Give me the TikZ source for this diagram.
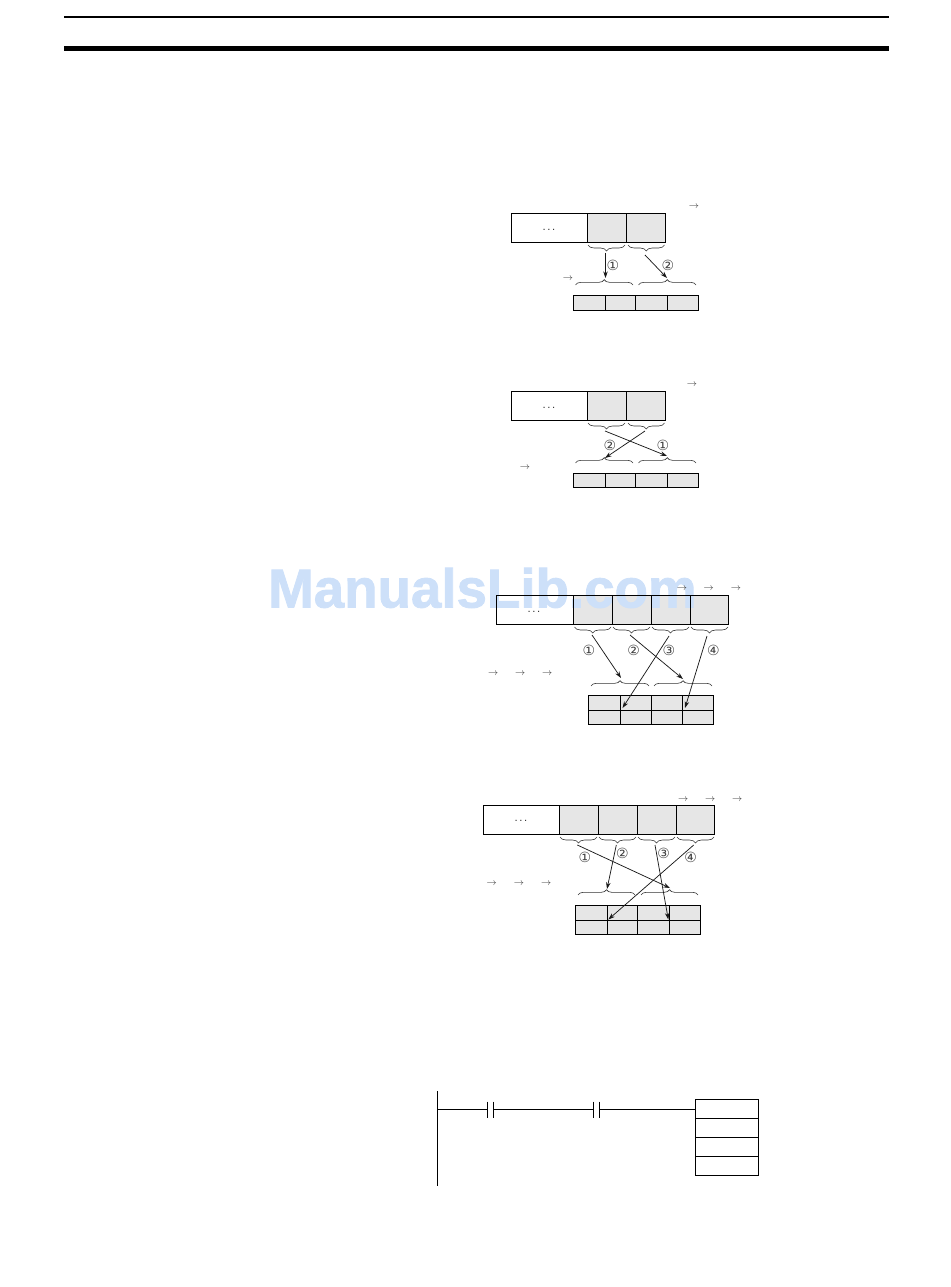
\documentclass[tikz,border=0pt]{standalone}
\usepackage{fontspec}
\setmainfont{Liberation Sans}
\newfontfamily\circfont{DejaVu Sans}
\newfontfamily\wmfont[FakeBold=1.6]{Liberation Sans Bold}
\usetikzlibrary{arrows.meta,decorations.pathreplacing}
\definecolor{cellgray}{HTML}{E6E6E6}
\definecolor{wmblue}{HTML}{CDE0F9}
\tikzset{
  px/.style={x=0.75pt,y=-0.75pt},
  whitecell/.style={draw=black,line width=0.85pt,fill=white,inner sep=0pt,outer sep=0pt},
  graycell/.style={draw=black,line width=0.85pt,fill=cellgray,inner sep=0pt,outer sep=0pt},
  grayback/.style={fill=cellgray,inner sep=0pt,outer sep=0pt},
  linecell/.style={draw=black,line width=0.85pt,inner sep=0pt,outer sep=0pt},
  flow/.style={draw=black!90,line width=0.55pt,-{Stealth[length=5pt,width=3.4pt]}},
  bracetop/.style={draw=black!80,line width=0.45pt,decorate,decoration={brace,mirror,amplitude=4.5pt,aspect=0.5}},
  bracelow/.style={draw=black!80,line width=0.45pt,decorate,decoration={brace,amplitude=4pt,aspect=0.5}},
  seq/.style={font=\circfont\fontsize{10.5pt}{11pt}\selectfont,text=black!75,inner sep=0pt},
  order/.style={font=\fontsize{7.5pt}{8pt}\selectfont,text=black!75,inner sep=0pt},
  dotsmark/.style={font=\fontsize{8.5pt}{9pt}\selectfont,text=black!80,inner sep=0pt},
  rail/.style={draw=black,line width=0.95pt},
  headthin/.style={draw=black,line width=1.1pt},
  headthick/.style={draw=black,line width=3.9pt},
  mark text/.style={font=\wmfont\fontsize{41pt}{45pt}\selectfont,text=wmblue,inner sep=0pt}
}
% name, x1, y1, x2, y2, style
\newcommand{\cellnode}[6]{%
  \node[#6,minimum width={(#4-#2)*0.75pt},minimum height={(#5-#3)*0.75pt}] (#1) at ({(#2+#4)/2},{(#3+#5)/2}) {};}
\newcommand{\arrowmark}[3]{\node[order,yshift=-1.2pt] (#1) at (#2,#3) {$\rightarrow$};}
\newcommand{\tridots}{.\kern1.2pt.\kern1.2pt.}
\begin{document}
\begin{tikzpicture}[px]
\useasboundingbox (0,0) rectangle (950,1287);
% header rules
\coordinate (hl1) at (64,17); \coordinate (hr1) at (889,17);
\coordinate (hl2) at (64,48.5); \coordinate (hr2) at (889,48.5);
\draw[headthin] (hl1) -- (hr1);
\draw[headthick] (hl2) -- (hr2);

% ---------- diagram 1
\cellnode{a0}{511.5}{213.5}{587.5}{242.5}{whitecell}
\cellnode{a1}{587.5}{213.5}{626.5}{242.5}{graycell}
\cellnode{a2}{626.5}{213.5}{665.5}{242.5}{graycell}
\node[dotsmark] (adots) at (549,229.5) {\tridots};
\cellnode{at1}{573.5}{295.5}{605.5}{310.5}{graycell}
\cellnode{at2}{605.5}{295.5}{635.5}{310.5}{graycell}
\cellnode{at3}{635.5}{295.5}{667.5}{310.5}{graycell}
\cellnode{at4}{667.5}{295.5}{698.5}{310.5}{graycell}
\coordinate (aub1) at (588,245); \coordinate (aub2) at (625,245);
\coordinate (aub3) at (628,245); \coordinate (aub4) at (664.5,245);
\coordinate (alb1) at (575.5,285); \coordinate (alb2) at (633,285);
\coordinate (alb3) at (638.5,285); \coordinate (alb4) at (696,285);
\draw[bracetop] (aub1) -- (aub2);
\draw[bracetop] (aub3) -- (aub4);
\draw[bracelow] (alb1) -- (alb2);
\draw[bracelow] (alb3) -- (alb4);
\coordinate (as1) at (605.5,253); \coordinate (ae1) at (605.5,278);
\coordinate (as2) at (645,255); \coordinate (ae2) at (667,278);
\draw[flow] (as1) -- (ae1);
\draw[flow] (as2) -- (ae2);
\node[seq] (an1) at (613,265) {①};
\node[seq] (an2) at (668,265) {②};
\arrowmark{am1}{694}{205}
\arrowmark{am2}{568}{277}

% ---------- diagram 2
\cellnode{b0}{511.5}{391.5}{587.5}{420.5}{whitecell}
\cellnode{b1}{587.5}{391.5}{626.5}{420.5}{graycell}
\cellnode{b2}{626.5}{391.5}{665.5}{420.5}{graycell}
\node[dotsmark] (bdots) at (549,407.5) {\tridots};
\cellnode{bt1}{573.5}{473.5}{605.5}{487.5}{graycell}
\cellnode{bt2}{605.5}{473.5}{635.5}{487.5}{graycell}
\cellnode{bt3}{635.5}{473.5}{667.5}{487.5}{graycell}
\cellnode{bt4}{667.5}{473.5}{698.5}{487.5}{graycell}
\coordinate (bub1) at (588,423); \coordinate (bub2) at (625,423);
\coordinate (bub3) at (628,423); \coordinate (bub4) at (664.5,423);
\coordinate (blb1) at (575.5,463); \coordinate (blb2) at (633,463);
\coordinate (blb3) at (638.5,463); \coordinate (blb4) at (696,463);
\draw[bracetop] (bub1) -- (bub2);
\draw[bracetop] (bub3) -- (bub4);
\draw[bracelow] (blb1) -- (blb2);
\draw[bracelow] (blb3) -- (blb4);
\coordinate (bs1) at (605,431); \coordinate (be1) at (667,456);
\coordinate (bs2) at (645,431); \coordinate (be2) at (605,458);
\draw[flow] (bs1) -- (be1);
\draw[flow] (bs2) -- (be2);
\node[seq] (bn2) at (610,445) {②};
\node[seq] (bn1) at (663,445) {①};
\arrowmark{bm1}{692}{383}
\arrowmark{bm2}{525}{466}

% ---------- diagram 3
\cellnode{cf1}{573.5}{595.5}{612.5}{624.5}{grayback}
\cellnode{cf2}{612.5}{595.5}{651.5}{624.5}{grayback}
\cellnode{cf3}{651.5}{595.5}{690.5}{624.5}{grayback}
\cellnode{cf4}{690.5}{595.5}{728.5}{624.5}{grayback}
\node[mark text,anchor=base west] (wm) at (268,607.5) {ManualsLib.com};
\cellnode{c0}{496.5}{595.5}{573.5}{624.5}{linecell}
\cellnode{c1}{573.5}{595.5}{612.5}{624.5}{linecell}
\cellnode{c2}{612.5}{595.5}{651.5}{624.5}{linecell}
\cellnode{c3}{651.5}{595.5}{690.5}{624.5}{linecell}
\cellnode{c4}{690.5}{595.5}{728.5}{624.5}{linecell}
\node[dotsmark] (cdots) at (534,611.5) {\tridots};
\cellnode{ct1}{588.5}{695.5}{620.5}{710.5}{graycell}
\cellnode{ct2}{620.5}{695.5}{651.5}{710.5}{graycell}
\cellnode{ct3}{651.5}{695.5}{682.5}{710.5}{graycell}
\cellnode{ct4}{682.5}{695.5}{713.5}{710.5}{graycell}
\cellnode{ct5}{588.5}{710.5}{620.5}{724.5}{graycell}
\cellnode{ct6}{620.5}{710.5}{651.5}{724.5}{graycell}
\cellnode{ct7}{651.5}{710.5}{682.5}{724.5}{graycell}
\cellnode{ct8}{682.5}{710.5}{713.5}{724.5}{graycell}
\coordinate (cub1) at (574.5,627); \coordinate (cub2) at (611,627);
\coordinate (cub3) at (613,627); \coordinate (cub4) at (650,627);
\coordinate (cub5) at (652,627); \coordinate (cub6) at (689,627);
\coordinate (cub7) at (691,627); \coordinate (cub8) at (728,627);
\coordinate (clb1) at (591,686); \coordinate (clb2) at (649,686);
\coordinate (clb3) at (654,686); \coordinate (clb4) at (712,686);
\draw[bracetop] (cub1) -- (cub2);
\draw[bracetop] (cub3) -- (cub4);
\draw[bracetop] (cub5) -- (cub6);
\draw[bracetop] (cub7) -- (cub8);
\draw[bracelow] (clb1) -- (clb2);
\draw[bracelow] (clb3) -- (clb4);
\coordinate (cs1) at (592,635); \coordinate (ce1) at (621,678);
\coordinate (cs2) at (630,635); \coordinate (ce2) at (683,679);
\coordinate (cs3) at (669,636); \coordinate (ce3) at (622.5,708);
\coordinate (cs4) at (707,636); \coordinate (ce4) at (685,708);
\draw[flow] (cs1) -- (ce1);
\draw[flow] (cs2) -- (ce2);
\draw[flow] (cs3) -- (ce3);
\draw[flow] (cs4) -- (ce4);
\node[seq] (cn1) at (589,650) {①};
\node[seq] (cn2) at (633.7,650) {②};
\node[seq] (cn3) at (669,650) {③};
\node[seq] (cn4) at (713.3,650) {④};
\arrowmark{cm1}{682}{587}
\arrowmark{cm2}{708.7}{587}
\arrowmark{cm3}{736}{587}
\arrowmark{cm4}{493.3}{672.3}
\arrowmark{cm5}{520.3}{672.3}
\arrowmark{cm6}{547.3}{672.3}

% ---------- diagram 4
\cellnode{d0}{483.5}{805.5}{559.5}{834.5}{whitecell}
\cellnode{d1}{559.5}{805.5}{598.5}{834.5}{graycell}
\cellnode{d2}{598.5}{805.5}{637.5}{834.5}{graycell}
\cellnode{d3}{637.5}{805.5}{676.5}{834.5}{graycell}
\cellnode{d4}{676.5}{805.5}{714.5}{834.5}{graycell}
\node[dotsmark] (ddots) at (521,821) {\tridots};
\cellnode{dt1}{575.5}{905.5}{607.5}{920.5}{graycell}
\cellnode{dt2}{607.5}{905.5}{637.5}{920.5}{graycell}
\cellnode{dt3}{637.5}{905.5}{669.5}{920.5}{graycell}
\cellnode{dt4}{669.5}{905.5}{700.5}{920.5}{graycell}
\cellnode{dt5}{575.5}{920.5}{607.5}{934.5}{graycell}
\cellnode{dt6}{607.5}{920.5}{637.5}{934.5}{graycell}
\cellnode{dt7}{637.5}{920.5}{669.5}{934.5}{graycell}
\cellnode{dt8}{669.5}{920.5}{700.5}{934.5}{graycell}
\coordinate (dub1) at (560,837); \coordinate (dub2) at (597,837);
\coordinate (dub3) at (599,837); \coordinate (dub4) at (636,837);
\coordinate (dub5) at (638,837); \coordinate (dub6) at (675,837);
\coordinate (dub7) at (677,837); \coordinate (dub8) at (714,837);
\coordinate (dlb1) at (578,895); \coordinate (dlb2) at (635,895);
\coordinate (dlb3) at (641,895); \coordinate (dlb4) at (698,895);
\draw[bracetop] (dub1) -- (dub2);
\draw[bracetop] (dub3) -- (dub4);
\draw[bracetop] (dub5) -- (dub6);
\draw[bracetop] (dub7) -- (dub8);
\draw[bracelow] (dlb1) -- (dlb2);
\draw[bracelow] (dlb3) -- (dlb4);
\coordinate (ds1) at (577.3,845); \coordinate (de1) at (670,888);
\coordinate (ds2) at (616.3,845); \coordinate (de2) at (607,889);
\coordinate (ds3) at (655,845); \coordinate (de3) at (668.3,919.5);
\coordinate (ds4) at (693.7,845); \coordinate (de4) at (608.3,919.5);
\draw[flow] (ds1) -- (de1);
\draw[flow] (ds2) -- (de2);
\draw[flow] (ds3) -- (de3);
\draw[flow] (ds4) -- (de4);
\node[seq] (dn1) at (585,857) {①};
\node[seq] (dn2) at (622.3,853.7) {②};
\node[seq] (dn3) at (663.7,853.7) {③};
\node[seq] (dn4) at (690.7,857) {④};
\arrowmark{dm1}{683.3}{798.3}
\arrowmark{dm2}{710.3}{798.3}
\arrowmark{dm3}{737.3}{798.3}
\arrowmark{dm4}{491.7}{882.3}
\arrowmark{dm5}{519}{882.3}
\arrowmark{dm6}{546.3}{882.3}

% ---------- ladder
\coordinate (railtop) at (437.5,1091); \coordinate (railbot) at (437.5,1186);
\coordinate (r0) at (437.5,1109.5);
\coordinate (k1l) at (487.5,1109.5); \coordinate (k1r) at (493.5,1109.5);
\coordinate (k2l) at (593.5,1109.5); \coordinate (k2r) at (599.5,1109.5);
\coordinate (k1lt) at (487.5,1101.5); \coordinate (k1lb) at (487.5,1117.5);
\coordinate (k1rt) at (493.5,1101.5); \coordinate (k1rb) at (493.5,1117.5);
\coordinate (k2lt) at (593.5,1101.5); \coordinate (k2lb) at (593.5,1117.5);
\coordinate (k2rt) at (599.5,1101.5); \coordinate (k2rb) at (599.5,1117.5);
\cellnode{l1}{695.5}{1099.5}{758.5}{1118.5}{whitecell}
\cellnode{l2}{695.5}{1118.5}{758.5}{1137.5}{whitecell}
\cellnode{l3}{695.5}{1137.5}{758.5}{1156.5}{whitecell}
\cellnode{l4}{695.5}{1156.5}{758.5}{1175.5}{whitecell}
\coordinate (lin) at (695.5,1109.5);
\draw[rail] (railtop) -- (railbot);
\draw[rail] (r0) -- (k1l);
\draw[rail] (k1r) -- (k2l);
\draw[rail] (k2r) -- (lin);
\draw[rail] (k1lt) -- (k1lb);
\draw[rail] (k1rt) -- (k1rb);
\draw[rail] (k2lt) -- (k2lb);
\draw[rail] (k2rt) -- (k2rb);
\end{tikzpicture}
\end{document}
